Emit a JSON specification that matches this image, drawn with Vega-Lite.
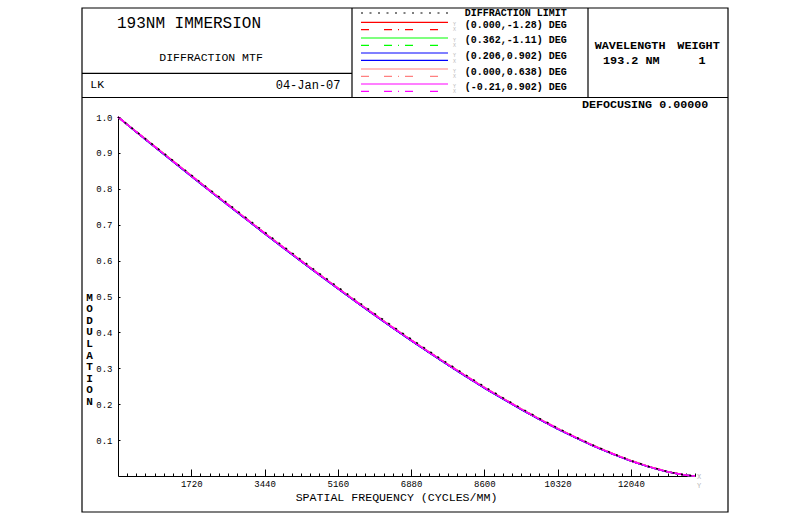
{
  "$schema": "https://vega.github.io/schema/vega-lite/v6.json",
  "width": 577,
  "height": 359,
  "autosize": "none",
  "padding": {"left": 118, "top": 117, "right": 117, "bottom": 44},
  "background": "white",
  "config": {
    "view": {"stroke": null},
    "legend": {"disable": true},
    "text": {"font": "Liberation Mono", "color": "black"},
    "axis": {
      "labelFont": "Liberation Mono",
      "titleFont": "Liberation Mono",
      "domainColor": "black",
      "tickColor": "black",
      "labelColor": "black",
      "titleColor": "black",
      "grid": false,
      "labelFontSize": 9,
      "titleFontSize": 11.6,
      "titleFontWeight": "normal",
      "labelOverlap": false,
      "labelFlush": false
    }
  },
  "layer": [
    {
      "data": {"values": [
        {"f":0,"a_ry":1,"b_rx":1,"c_gy":1,"d_gx":1,"e_by":1,"f_bx":1,"g_sy":1,"h_sx":1,"i_my":1,"j_mx":1,"k_dl":1},
        {"f":430,"a_ry":0.9585,"b_rx":0.9585,"c_gy":0.9585,"d_gx":0.9585,"e_by":0.958,"f_bx":0.958,"g_sy":0.959,"h_sx":0.959,"i_my":0.9585,"j_mx":0.9585,"k_dl":0.9595},
        {"f":860,"a_ry":0.9176,"b_rx":0.9176,"c_gy":0.9176,"d_gx":0.9176,"e_by":0.9166,"f_bx":0.9166,"g_sy":0.9184,"h_sx":0.9184,"i_my":0.9176,"j_mx":0.9176,"k_dl":0.9191},
        {"f":1290,"a_ry":0.8768,"b_rx":0.8768,"c_gy":0.8768,"d_gx":0.8768,"e_by":0.8758,"f_bx":0.8758,"g_sy":0.8778,"h_sx":0.8778,"i_my":0.8768,"j_mx":0.8768,"k_dl":0.8788},
        {"f":1720,"a_ry":0.8361,"b_rx":0.8361,"c_gy":0.8361,"d_gx":0.8361,"e_by":0.8351,"f_bx":0.8351,"g_sy":0.8371,"h_sx":0.8371,"i_my":0.8361,"j_mx":0.8361,"k_dl":0.8386},
        {"f":2150,"a_ry":0.7955,"b_rx":0.7955,"c_gy":0.7955,"d_gx":0.7955,"e_by":0.7945,"f_bx":0.7945,"g_sy":0.7965,"h_sx":0.7965,"i_my":0.7955,"j_mx":0.7955,"k_dl":0.7985},
        {"f":2580,"a_ry":0.7557,"b_rx":0.7557,"c_gy":0.7557,"d_gx":0.7557,"e_by":0.7547,"f_bx":0.7547,"g_sy":0.7567,"h_sx":0.7567,"i_my":0.7557,"j_mx":0.7557,"k_dl":0.7587},
        {"f":3010,"a_ry":0.7161,"b_rx":0.7161,"c_gy":0.7161,"d_gx":0.7161,"e_by":0.7151,"f_bx":0.7151,"g_sy":0.7171,"h_sx":0.7171,"i_my":0.7161,"j_mx":0.7161,"k_dl":0.7191},
        {"f":3440,"a_ry":0.6763,"b_rx":0.6763,"c_gy":0.6763,"d_gx":0.6763,"e_by":0.6753,"f_bx":0.6753,"g_sy":0.6773,"h_sx":0.6773,"i_my":0.6763,"j_mx":0.6763,"k_dl":0.6798},
        {"f":3870,"a_ry":0.6373,"b_rx":0.6373,"c_gy":0.6373,"d_gx":0.6373,"e_by":0.6363,"f_bx":0.6363,"g_sy":0.6383,"h_sx":0.6383,"i_my":0.6373,"j_mx":0.6373,"k_dl":0.6408},
        {"f":4300,"a_ry":0.5988,"b_rx":0.5988,"c_gy":0.5988,"d_gx":0.5988,"e_by":0.5978,"f_bx":0.5978,"g_sy":0.5998,"h_sx":0.5998,"i_my":0.5988,"j_mx":0.5988,"k_dl":0.6023},
        {"f":4730,"a_ry":0.5606,"b_rx":0.5606,"c_gy":0.5606,"d_gx":0.5606,"e_by":0.5596,"f_bx":0.5596,"g_sy":0.5616,"h_sx":0.5616,"i_my":0.5606,"j_mx":0.5606,"k_dl":0.5641},
        {"f":5160,"a_ry":0.523,"b_rx":0.523,"c_gy":0.523,"d_gx":0.523,"e_by":0.522,"f_bx":0.522,"g_sy":0.524,"h_sx":0.524,"i_my":0.523,"j_mx":0.523,"k_dl":0.5265},
        {"f":5590,"a_ry":0.4858,"b_rx":0.4858,"c_gy":0.4858,"d_gx":0.4858,"e_by":0.4848,"f_bx":0.4848,"g_sy":0.4868,"h_sx":0.4868,"i_my":0.4858,"j_mx":0.4858,"k_dl":0.4893},
        {"f":6020,"a_ry":0.4493,"b_rx":0.4493,"c_gy":0.4493,"d_gx":0.4493,"e_by":0.4483,"f_bx":0.4483,"g_sy":0.4503,"h_sx":0.4503,"i_my":0.4493,"j_mx":0.4493,"k_dl":0.4528},
        {"f":6450,"a_ry":0.4134,"b_rx":0.4134,"c_gy":0.4134,"d_gx":0.4134,"e_by":0.4124,"f_bx":0.4124,"g_sy":0.4144,"h_sx":0.4144,"i_my":0.4134,"j_mx":0.4134,"k_dl":0.4169},
        {"f":6880,"a_ry":0.3782,"b_rx":0.3782,"c_gy":0.3782,"d_gx":0.3782,"e_by":0.3772,"f_bx":0.3772,"g_sy":0.3792,"h_sx":0.3792,"i_my":0.3782,"j_mx":0.3782,"k_dl":0.3817},
        {"f":7310,"a_ry":0.3442,"b_rx":0.3442,"c_gy":0.3442,"d_gx":0.3442,"e_by":0.3432,"f_bx":0.3432,"g_sy":0.3452,"h_sx":0.3452,"i_my":0.3442,"j_mx":0.3442,"k_dl":0.3472},
        {"f":7740,"a_ry":0.3106,"b_rx":0.3106,"c_gy":0.3106,"d_gx":0.3106,"e_by":0.3096,"f_bx":0.3096,"g_sy":0.3116,"h_sx":0.3116,"i_my":0.3106,"j_mx":0.3106,"k_dl":0.3136},
        {"f":8170,"a_ry":0.2779,"b_rx":0.2779,"c_gy":0.2779,"d_gx":0.2779,"e_by":0.2769,"f_bx":0.2769,"g_sy":0.2789,"h_sx":0.2789,"i_my":0.2779,"j_mx":0.2779,"k_dl":0.2809},
        {"f":8600,"a_ry":0.2461,"b_rx":0.2461,"c_gy":0.2461,"d_gx":0.2461,"e_by":0.2451,"f_bx":0.2451,"g_sy":0.2471,"h_sx":0.2471,"i_my":0.2461,"j_mx":0.2461,"k_dl":0.2491},
        {"f":9030,"a_ry":0.2159,"b_rx":0.2159,"c_gy":0.2159,"d_gx":0.2159,"e_by":0.2149,"f_bx":0.2149,"g_sy":0.2169,"h_sx":0.2169,"i_my":0.2159,"j_mx":0.2159,"k_dl":0.2184},
        {"f":9460,"a_ry":0.1864,"b_rx":0.1864,"c_gy":0.1864,"d_gx":0.1864,"e_by":0.1855,"f_bx":0.1855,"g_sy":0.1874,"h_sx":0.1874,"i_my":0.1864,"j_mx":0.1864,"k_dl":0.1889},
        {"f":9890,"a_ry":0.1586,"b_rx":0.1586,"c_gy":0.1586,"d_gx":0.1586,"e_by":0.1578,"f_bx":0.1578,"g_sy":0.1596,"h_sx":0.1596,"i_my":0.1586,"j_mx":0.1586,"k_dl":0.1606},
        {"f":10320,"a_ry":0.1317,"b_rx":0.1317,"c_gy":0.1317,"d_gx":0.1317,"e_by":0.131,"f_bx":0.131,"g_sy":0.1327,"h_sx":0.1327,"i_my":0.1317,"j_mx":0.1317,"k_dl":0.1337},
        {"f":10750,"a_ry":0.1068,"b_rx":0.1068,"c_gy":0.1068,"d_gx":0.1068,"e_by":0.1062,"f_bx":0.1062,"g_sy":0.1078,"h_sx":0.1078,"i_my":0.1068,"j_mx":0.1068,"k_dl":0.1083},
        {"f":11180,"a_ry":0.0831,"b_rx":0.0831,"c_gy":0.0831,"d_gx":0.0831,"e_by":0.0826,"f_bx":0.0826,"g_sy":0.0841,"h_sx":0.0841,"i_my":0.0831,"j_mx":0.0831,"k_dl":0.0846},
        {"f":11610,"a_ry":0.0618,"b_rx":0.0618,"c_gy":0.0618,"d_gx":0.0618,"e_by":0.0614,"f_bx":0.0614,"g_sy":0.0628,"h_sx":0.0628,"i_my":0.0618,"j_mx":0.0618,"k_dl":0.0628},
        {"f":12040,"a_ry":0.0421,"b_rx":0.0421,"c_gy":0.0421,"d_gx":0.0421,"e_by":0.0418,"f_bx":0.0418,"g_sy":0.0431,"h_sx":0.0431,"i_my":0.0421,"j_mx":0.0421,"k_dl":0.0431},
        {"f":12470,"a_ry":0.0255,"b_rx":0.0255,"c_gy":0.0255,"d_gx":0.0255,"e_by":0.0253,"f_bx":0.0253,"g_sy":0.0262,"h_sx":0.0262,"i_my":0.0255,"j_mx":0.0255,"k_dl":0.026},
        {"f":12900,"a_ry":0.0117,"b_rx":0.0117,"c_gy":0.0117,"d_gx":0.0117,"e_by":0.0116,"f_bx":0.0116,"g_sy":0.0121,"h_sx":0.0121,"i_my":0.0117,"j_mx":0.0117,"k_dl":0.012},
        {"f":13330,"a_ry":0.0021,"b_rx":0.0021,"c_gy":0.0021,"d_gx":0.0021,"e_by":0.002,"f_bx":0.002,"g_sy":0.0023,"h_sx":0.0023,"i_my":0.0021,"j_mx":0.0021,"k_dl":0.0022},
        {"f":13545,"a_ry":0,"b_rx":0,"c_gy":0,"d_gx":0,"e_by":0,"f_bx":0,"g_sy":0,"h_sx":0,"i_my":0,"j_mx":0,"k_dl":0}
      ]},
      "transform": [{"fold": ["a_ry","b_rx","c_gy","d_gx","e_by","f_bx","g_sy","h_sx","i_my","j_mx","k_dl"], "as": ["series","mtf"]}],
      "mark": {"type": "line", "strokeWidth": 1.5},
      "encoding": {
        "x": {
          "field": "f", "type": "quantitative",
          "scale": {"domain": [0, 13545], "nice": false, "zero": false},
          "axis": {
            "title": "SPATIAL FREQUENCY (CYCLES/MM)",
            "values": [215,430,645,860,1075,1290,1505,1720,1935,2150,2365,2580,2795,3010,3225,3440,3655,3870,4085,4300,4515,4730,4945,5160,5375,5590,5805,6020,6235,6450,6665,6880,7095,7310,7525,7740,7955,8170,8385,8600,8815,9030,9245,9460,9675,9890,10105,10320,10535,10750,10965,11180,11395,11610,11825,12040,12255,12470,12685,12900,13115,13330,13545],
            "tickCount": 200,
            "format": "d",
            "labelExpr": "datum.value % 1720 === 0 ? datum.label : ''",
            "tickSize": {"condition": {"test": "datum.value % 1720 === 0", "value": -7}, "value": -3},
            "labelPadding": 10,
            "labelBaseline": "top",
            "titleX": 278,
            "titleY": 21,
            "titleAlign": "center",
            "titleBaseline": "middle"
          }
        },
        "y": {
          "field": "mtf", "type": "quantitative",
          "scale": {"domain": [0, 1], "nice": false},
          "axis": {
            "values": [0.1,0.2,0.3,0.4,0.5,0.6,0.7,0.8,0.9,1.0],
            "tickCount": 50,
            "format": ".1f",
            "tickSize": -2,
            "labelPadding": 8,
            "title": ["M","O","D","U","L","A","T","I","O","N"],
            "titleAngle": 0,
            "titleAlign": "center",
            "titleBaseline": "middle",
            "titleX": -29,
            "titleY": 180,
            "titleLineHeight": 11.6,
            "titleFontSize": 11,
            "titleFontWeight": "bold"
          }
        },
        "color": {
          "field": "series", "type": "nominal",
          "scale": {
            "domain": ["a_ry","b_rx","c_gy","d_gx","e_by","f_bx","g_sy","h_sx","i_my","j_mx","k_dl"],
            "range": ["#ff0000","#ff0000","#00ff00","#00ff00","#0000ff","#0000ff","#ff8080","#ff8080","#ff00ff","#ff00ff","#000000"]
          }
        },
        "strokeDash": {
          "field": "series", "type": "nominal",
          "scale": {
            "domain": ["a_ry","b_rx","c_gy","d_gx","e_by","f_bx","g_sy","h_sx","i_my","j_mx","k_dl"],
            "range": [[1,0],[8,15,8,6,1,6,8,17],[1,0],[8,15,8,6,1,6,8,17],[1,0],[1,0],[1,0],[8,15,8,6,1,6,8,17],[1,0],[8,15,8,6,1,6,8,17],[2,6.5]]
          }
        }
      }
    },
    {"data": {"values": [{}]}, "mark": {"type": "rect", "filled": false, "stroke": "black", "strokeWidth": 1.2},
     "encoding": {"x": {"datum": -845.1, "type": "quantitative"}, "x2": {"datum": 14319.7}, "y": {"datum": -0.1003, "type": "quantitative"}, "y2": {"datum": 1.3036}}},
    {"data": {"values": [{}]}, "mark": {"type": "rule", "color": "black", "strokeWidth": 1.2},
     "encoding": {"x": {"datum": -845.1, "type": "quantitative"}, "x2": {"datum": 14319.7}, "y": {"datum": 1.0543, "type": "quantitative"}}},
    {"data": {"values": [{}]}, "mark": {"type": "rule", "color": "black", "strokeWidth": 1.2},
     "encoding": {"x": {"datum": -845.1, "type": "quantitative"}, "x2": {"datum": 5493.1}, "y": {"datum": 1.1217, "type": "quantitative"}}},
    {"data": {"values": [{}]}, "mark": {"type": "rule", "color": "black", "strokeWidth": 1.2},
     "encoding": {"x": {"datum": 5493.1, "type": "quantitative"}, "y": {"datum": 1.0543, "type": "quantitative"}, "y2": {"datum": 1.3036}}},
    {"data": {"values": [{}]}, "mark": {"type": "rule", "color": "black", "strokeWidth": 1.2},
     "encoding": {"x": {"datum": 11033.2, "type": "quantitative"}, "y": {"datum": 1.0543, "type": "quantitative"}, "y2": {"datum": 1.3036}}},

    {"data": {"values": [{}]}, "mark": {"type": "rule", "strokeWidth": 1.2},
     "encoding": {"x": {"datum": 5704.4, "type": "quantitative"}, "x2": {"datum": 7746.7}, "y": {"datum": 1.2897, "type": "quantitative"}, "color": {"datum": "k_dl", "type": "nominal"}, "strokeDash": {"datum": "k_dl", "type": "nominal"}}},
    {"data": {"values": [{}]}, "mark": {"type": "rule", "strokeWidth": 1.2},
     "encoding": {"x": {"datum": 5704.4, "type": "quantitative"}, "x2": {"datum": 7746.7}, "y": {"datum": 1.2638, "type": "quantitative"}, "color": {"datum": "a_ry", "type": "nominal"}, "strokeDash": {"datum": "a_ry", "type": "nominal"}}},
    {"data": {"values": [{}]}, "mark": {"type": "rule", "strokeWidth": 1.2},
     "encoding": {"x": {"datum": 5704.4, "type": "quantitative"}, "x2": {"datum": 7746.7}, "y": {"datum": 1.2432, "type": "quantitative"}, "color": {"datum": "b_rx", "type": "nominal"}, "strokeDash": {"datum": "b_rx", "type": "nominal"}}},
    {"data": {"values": [{}]}, "mark": {"type": "rule", "strokeWidth": 1.2},
     "encoding": {"x": {"datum": 5704.4, "type": "quantitative"}, "x2": {"datum": 7746.7}, "y": {"datum": 1.2201, "type": "quantitative"}, "color": {"datum": "c_gy", "type": "nominal"}, "strokeDash": {"datum": "c_gy", "type": "nominal"}}},
    {"data": {"values": [{}]}, "mark": {"type": "rule", "strokeWidth": 1.2},
     "encoding": {"x": {"datum": 5704.4, "type": "quantitative"}, "x2": {"datum": 7746.7}, "y": {"datum": 1.1997, "type": "quantitative"}, "color": {"datum": "d_gx", "type": "nominal"}, "strokeDash": {"datum": "d_gx", "type": "nominal"}}},
    {"data": {"values": [{}]}, "mark": {"type": "rule", "strokeWidth": 1.2},
     "encoding": {"x": {"datum": 5704.4, "type": "quantitative"}, "x2": {"datum": 7746.7}, "y": {"datum": 1.1783, "type": "quantitative"}, "color": {"datum": "e_by", "type": "nominal"}, "strokeDash": {"datum": "e_by", "type": "nominal"}}},
    {"data": {"values": [{}]}, "mark": {"type": "rule", "strokeWidth": 1.2},
     "encoding": {"x": {"datum": 5704.4, "type": "quantitative"}, "x2": {"datum": 7746.7}, "y": {"datum": 1.1579, "type": "quantitative"}, "color": {"datum": "f_bx", "type": "nominal"}, "strokeDash": {"datum": "f_bx", "type": "nominal"}}},
    {"data": {"values": [{}]}, "mark": {"type": "rule", "strokeWidth": 1.2},
     "encoding": {"x": {"datum": 5704.4, "type": "quantitative"}, "x2": {"datum": 7746.7}, "y": {"datum": 1.1337, "type": "quantitative"}, "color": {"datum": "g_sy", "type": "nominal"}, "strokeDash": {"datum": "g_sy", "type": "nominal"}}},
    {"data": {"values": [{}]}, "mark": {"type": "rule", "strokeWidth": 1.2},
     "encoding": {"x": {"datum": 5704.4, "type": "quantitative"}, "x2": {"datum": 7746.7}, "y": {"datum": 1.1134, "type": "quantitative"}, "color": {"datum": "h_sx", "type": "nominal"}, "strokeDash": {"datum": "h_sx", "type": "nominal"}}},
    {"data": {"values": [{}]}, "mark": {"type": "rule", "strokeWidth": 1.2},
     "encoding": {"x": {"datum": 5704.4, "type": "quantitative"}, "x2": {"datum": 7746.7}, "y": {"datum": 1.0919, "type": "quantitative"}, "color": {"datum": "i_my", "type": "nominal"}, "strokeDash": {"datum": "i_my", "type": "nominal"}}},
    {"data": {"values": [{}]}, "mark": {"type": "rule", "strokeWidth": 1.2},
     "encoding": {"x": {"datum": 5704.4, "type": "quantitative"}, "x2": {"datum": 7746.7}, "y": {"datum": 1.0716, "type": "quantitative"}, "color": {"datum": "j_mx", "type": "nominal"}, "strokeDash": {"datum": "j_mx", "type": "nominal"}}},

    {"data": {"values": [{}]}, "mark": {"type": "text", "text": "193NM IMMERSION", "align": "left", "baseline": "middle", "fontSize": 16},
     "encoding": {"x": {"datum": -23.5, "type": "quantitative"}, "y": {"datum": 1.2632, "type": "quantitative"}}},
    {"data": {"values": [{}]}, "mark": {"type": "text", "text": "DIFFRACTION MTF", "align": "left", "baseline": "middle", "fontSize": 11.5},
     "encoding": {"x": {"datum": 969.5, "type": "quantitative"}, "y": {"datum": 1.163, "type": "quantitative"}}},
    {"data": {"values": [{}]}, "mark": {"type": "text", "text": "LK", "align": "left", "baseline": "middle", "fontSize": 11.5},
     "encoding": {"x": {"datum": -650.3, "type": "quantitative"}, "y": {"datum": 1.0883, "type": "quantitative"}}},
    {"data": {"values": [{}]}, "mark": {"type": "text", "text": "04-Jan-07", "align": "right", "baseline": "middle", "fontSize": 12},
     "encoding": {"x": {"datum": 5223.2, "type": "quantitative"}, "y": {"datum": 1.0883, "type": "quantitative"}}},
    {"data": {"values": [{}]}, "mark": {"type": "text", "text": "DIFFRACTION LIMIT", "align": "left", "baseline": "middle", "fontSize": 10, "fontWeight": "bold"},
     "encoding": {"x": {"datum": 8138.8, "type": "quantitative"}, "y": {"datum": 1.2889, "type": "quantitative"}}},
    {"data": {"values": [{}]}, "mark": {"type": "text", "text": "(0.000,-1.28) DEG", "align": "left", "baseline": "middle", "fontSize": 10, "fontWeight": "bold"},
     "encoding": {"x": {"datum": 8138.8, "type": "quantitative"}, "y": {"datum": 1.2571, "type": "quantitative"}}},
    {"data": {"values": [{}]}, "mark": {"type": "text", "text": "(0.362,-1.11) DEG", "align": "left", "baseline": "middle", "fontSize": 10, "fontWeight": "bold"},
     "encoding": {"x": {"datum": 8138.8, "type": "quantitative"}, "y": {"datum": 1.2136, "type": "quantitative"}}},
    {"data": {"values": [{}]}, "mark": {"type": "text", "text": "(0.206,0.902) DEG", "align": "left", "baseline": "middle", "fontSize": 10, "fontWeight": "bold"},
     "encoding": {"x": {"datum": 8138.8, "type": "quantitative"}, "y": {"datum": 1.1702, "type": "quantitative"}}},
    {"data": {"values": [{}]}, "mark": {"type": "text", "text": "(0.000,0.638) DEG", "align": "left", "baseline": "middle", "fontSize": 10, "fontWeight": "bold"},
     "encoding": {"x": {"datum": 8138.8, "type": "quantitative"}, "y": {"datum": 1.1267, "type": "quantitative"}}},
    {"data": {"values": [{}]}, "mark": {"type": "text", "text": "(-0.21,0.902) DEG", "align": "left", "baseline": "middle", "fontSize": 10, "fontWeight": "bold"},
     "encoding": {"x": {"datum": 8138.8, "type": "quantitative"}, "y": {"datum": 1.0833, "type": "quantitative"}}},
    {"data": {"values": [{}]}, "mark": {"type": "text", "text": "WAVELENGTH", "align": "left", "baseline": "middle", "fontSize": 11.8, "fontWeight": "bold"},
     "encoding": {"x": {"datum": 11190.5, "type": "quantitative"}, "y": {"datum": 1.2006, "type": "quantitative"}}},
    {"data": {"values": [{}]}, "mark": {"type": "text", "text": "WEIGHT", "align": "left", "baseline": "middle", "fontSize": 11.8, "fontWeight": "bold"},
     "encoding": {"x": {"datum": 13129.5, "type": "quantitative"}, "y": {"datum": 1.2006, "type": "quantitative"}}},
    {"data": {"values": [{}]}, "mark": {"type": "text", "text": "193.2 NM", "align": "left", "baseline": "middle", "fontSize": 11.8, "fontWeight": "bold"},
     "encoding": {"x": {"datum": 11385.4, "type": "quantitative"}, "y": {"datum": 1.1574, "type": "quantitative"}}},
    {"data": {"values": [{}]}, "mark": {"type": "text", "text": "1", "align": "center", "baseline": "middle", "fontSize": 11.8, "fontWeight": "bold"},
     "encoding": {"x": {"datum": 13709.3, "type": "quantitative"}, "y": {"datum": 1.1574, "type": "quantitative"}}},
    {"data": {"values": [{}]}, "mark": {"type": "text", "text": "DEFOCUSING  0.00000", "align": "left", "baseline": "middle", "fontSize": 11.7, "fontWeight": "bold"},
     "encoding": {"x": {"datum": 10892.3, "type": "quantitative"}, "y": {"datum": 1.0362, "type": "quantitative"}}},

    {"data": {"values": [{}]}, "mark": {"type": "text", "text": ["Y","X"], "align": "center", "baseline": "middle", "fontSize": 5, "lineHeight": 5.5, "color": "#b8b8b8"},
     "encoding": {"x": {"datum": 7899.3, "type": "quantitative"}, "y": {"datum": 1.2596, "type": "quantitative"}}},
    {"data": {"values": [{}]}, "mark": {"type": "text", "text": ["Y","X"], "align": "center", "baseline": "middle", "fontSize": 5, "lineHeight": 5.5, "color": "#b8b8b8"},
     "encoding": {"x": {"datum": 7899.3, "type": "quantitative"}, "y": {"datum": 1.215, "type": "quantitative"}}},
    {"data": {"values": [{}]}, "mark": {"type": "text", "text": ["Y","X"], "align": "center", "baseline": "middle", "fontSize": 5, "lineHeight": 5.5, "color": "#b8b8b8"},
     "encoding": {"x": {"datum": 7899.3, "type": "quantitative"}, "y": {"datum": 1.1721, "type": "quantitative"}}},
    {"data": {"values": [{}]}, "mark": {"type": "text", "text": ["Y","X"], "align": "center", "baseline": "middle", "fontSize": 5, "lineHeight": 5.5, "color": "#b8b8b8"},
     "encoding": {"x": {"datum": 7899.3, "type": "quantitative"}, "y": {"datum": 1.1295, "type": "quantitative"}}},
    {"data": {"values": [{}]}, "mark": {"type": "text", "text": ["Y","X"], "align": "center", "baseline": "middle", "fontSize": 5, "lineHeight": 5.5, "color": "#b8b8b8"},
     "encoding": {"x": {"datum": 7899.3, "type": "quantitative"}, "y": {"datum": 1.0877, "type": "quantitative"}}},
    {"data": {"values": [{}]}, "mark": {"type": "text", "text": ["X","Y"], "align": "center", "baseline": "middle", "fontSize": 7, "lineHeight": 9.6, "color": "#b8b8b8"},
     "encoding": {"x": {"datum": 13638.9, "type": "quantitative"}, "y": {"datum": -0.0014, "type": "quantitative"}}}
  ]
}
